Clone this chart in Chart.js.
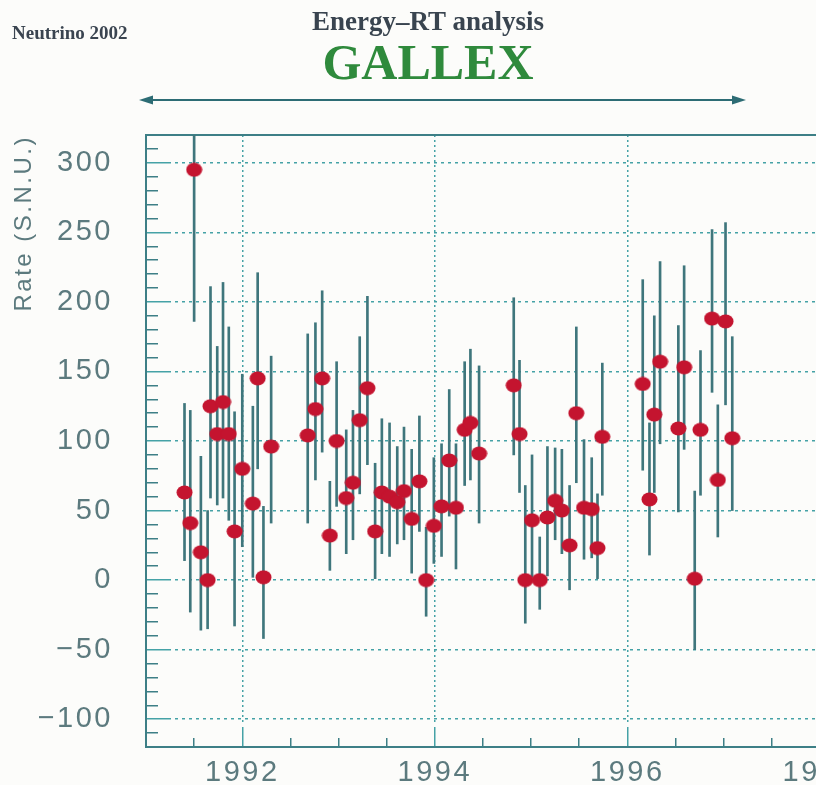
<!DOCTYPE html>
<html>
<head>
<meta charset="utf-8">
<script src="https://cdn.jsdelivr.net/npm/chart.js@4.4.1/dist/chart.umd.min.js"></script>
<style>
  html, body { margin: 0; padding: 0; background: #fcfcfa; }
  #wrap { position: relative; width: 816px; height: 785px; overflow: hidden; }
  #chart { position: absolute; left: 0; top: 0; }
  .conf { position: absolute; left: 12px; top: 23px; font: bold 19px "Liberation Serif", serif; line-height: 1; color: #3a4450; white-space: nowrap; }
  .sub { position: absolute; left: 0; width: 856px; top: 8px; text-align: center; font: bold 27px "Liberation Serif", serif; line-height: 1; color: #39444f; }
  .exp { position: absolute; left: 0; width: 856px; top: 37px; text-align: center; font: bold 50px "Liberation Serif", serif; line-height: 1; color: #2f8a3c; }
  #arrow { position: absolute; left: 0; top: 0; }
</style>
</head>
<body>
<div id="wrap">
  <canvas id="chart" width="880" height="785"></canvas>
  <div class="conf">Neutrino 2002</div>
  <div class="sub">Energy–RT analysis</div>
  <div class="exp">GALLEX</div>
  <svg id="arrow" width="816" height="120">
    <line x1="146" y1="100" x2="739" y2="100" stroke="#2d6c74" stroke-width="2.2"/>
    <polygon points="139,100 153,95.5 153,104.5" fill="#2d6c74"/>
    <polygon points="746,100 732,95.5 732,104.5" fill="#2d6c74"/>
  </svg>
</div>
<script>
// Run dates (years) and measured rates with the ends of their error bars
const years = [
  1991.40, 1991.46, 1991.50, 1991.57, 1991.64, 1991.67, 1991.74, 1991.80, 1991.86, 1991.92,
  1992.00, 1992.11, 1992.16, 1992.22, 1992.30, 1992.68, 1992.76, 1992.83, 1992.91, 1992.98,
  1993.08, 1993.15, 1993.22, 1993.30, 1993.38, 1993.45, 1993.53, 1993.61, 1993.68, 1993.76,
  1993.84, 1993.91, 1993.99, 1994.07, 1994.15, 1994.22, 1994.31, 1994.37, 1994.46, 1994.82,
  1994.88, 1994.94, 1995.01, 1995.09, 1995.17, 1995.25, 1995.32, 1995.40, 1995.47, 1995.55,
  1995.63, 1995.69, 1995.74, 1996.16, 1996.23, 1996.28, 1996.34, 1996.53, 1996.59, 1996.70,
  1996.76, 1996.88, 1996.94, 1997.02, 1997.09
];
const rates = [
  63, 41, 295, 20, 0, 125, 105, 128, 105, 35,
  80, 55, 145, 2, 96, 104, 123, 145, 32, 100,
  59, 70, 115, 138, 35, 63, 60, 56, 64, 44,
  71, 0, 39, 53, 86, 52, 108, 113, 91, 140,
  105, 0, 43, 0, 45, 57, 50, 25, 120, 52,
  51, 23, 103, 141, 58, 119, 157, 109, 153, 1,
  108, 188, 72, 186, 102
];
const rateHigh = [
  127, 122, 400, 89, 50, 211, 168, 214, 182, 121,
  148, 125, 221, 53, 161, 177, 185, 208, 71, 157,
  108, 122, 175, 204, 84, 116, 113, 96, 110, 94,
  118, 38, 88, 98, 137, 98, 157, 166, 154, 203,
  158, 68, 90, 31, 96, 95, 94, 68, 182, 101,
  88, 62, 156, 216, 113, 190, 229, 183, 226, 64,
  165, 252, 126, 257, 175
];
const rateLow = [
  14, -23, 186, -36, -35, 59, 54, 59, 43, -33,
  24, 2, 80, -42, 41, 41, 72, 92, 7, 53,
  19, 29, 62, 83, 1, 19, 17, 26, 29, 5,
  35, -26, 12, 17, 46, 8, 68, 72, 41, 90,
  63, -31, 2, -21, 3, 29, 19, -7, 70, 15,
  16, 1, 61, 79, 18, 63, 98, 49, 94, -50,
  61, 135, 31, 126, 50
];
const yearLabels = [1992, 1994, 1996, 1998];
const rateLabels = [-100, -50, 0, 50, 100, 150, 200, 250, 300];

const axisColor = '#3d7f86';
const gridColor = '#45a2a6';
const textColor = '#5c7a7e';
const plotHeight = 612;

// Oval red marker
function ovalDot(w, h, color) {
  const c = document.createElement('canvas');
  c.width = w; c.height = h;
  const g = c.getContext('2d');
  g.fillStyle = color;
  g.beginPath();
  g.ellipse(w / 2, h / 2, w / 2 - 0.5, h / 2 - 0.5, 0, 0, Math.PI * 2);
  g.fill();
  return c;
}
const dot = ovalDot(17, 15, '#c4142f');

// Dash patterns: short solid tick on the axis side, dotted line for labelled values
function yDash(v) {
  if (rateLabels.includes(v)) {
    const d = [24, 4];
    for (let t = 28; t < 900; t += 7) d.push(3, 4);
    return d;
  }
  return [11, 3000];
}
function xDash(v) {
  if (yearLabels.includes(v)) {
    const d = [];
    let t = 0;
    while (t + 5 <= plotHeight - 20) { d.push(2, 3); t += 5; }
    d.push(0, plotHeight - 20 - t, 20, 200);
    return d;
  }
  return [0, plotHeight - 9, 9, 200];
}
function fmt(v) {
  return v < 0 ? '\u2212' + Math.abs(v) : String(v);
}
function xGrid(ctx) {
  if (!ctx.tick) return axisColor;
  const v = ctx.tick.value;
  if (v === 1991) return 'transparent';
  return yearLabels.includes(v) ? gridColor : axisColor;
}
function yGrid(ctx) {
  if (!ctx.tick) return axisColor;
  const v = ctx.tick.value;
  if (rateLabels.includes(v)) return gridColor;
  return Math.abs(v % 10) < 1e-6 ? axisColor : 'transparent';
}
// fixed box sizes, no extra room for overhanging labels
function fixBox(w, h) {
  return s => {
    if (w !== null) s.width = w;
    if (h !== null) s.height = h;
    s.paddingLeft = 0; s.paddingRight = 0; s.paddingTop = 0; s.paddingBottom = 0;
  };
}

const spacing = {
  id: 'spacing',
  beforeDraw(chart) { chart.ctx.letterSpacing = '2.5px'; }
};

new Chart(document.getElementById('chart'), {
  type: 'scatter',
  data: {
    datasets: [
      {
        data: years.map((x, i) => ({ x: x, y: rates[i] })),
        pointStyle: dot,
        order: 0
      },
      {
        type: 'bar',
        data: years.map((x, i) => ({ x: x, y: [rateLow[i], rateHigh[i]] })),
        backgroundColor: '#3f767c',
        borderWidth: 0,
        barThickness: 2,
        order: 1
      }
    ]
  },
  options: {
    responsive: false,
    animation: false,
    events: [],
    layout: { padding: { top: 135, right: 12, left: 0, bottom: 0 } },
    plugins: { legend: { display: false }, tooltip: { enabled: false } },
    scales: {
      x: {
        type: 'linear',
        position: 'bottom',
        min: 1991,
        max: 1998.5,
        offset: false,
        afterFit: fixBox(null, 38),
        ticks: {
          stepSize: 0.5,
          autoSkip: false,
          maxRotation: 0,
          padding: 9,
          color: textColor,
          font: { family: 'Liberation Sans', size: 29 },
          callback: v => yearLabels.includes(v) ? String(v) : ''
        },
        grid: { offset: false, drawTicks: false, lineWidth: 1.5, color: xGrid },
        border: { color: axisColor, width: 2, dash: ctx => ctx.tick ? xDash(ctx.tick.value) : [] }
      },
      xTop: {
        type: 'linear',
        position: 'top',
        min: 1991,
        max: 1998.5,
        offset: false,
        afterFit: fixBox(null, 0),
        ticks: { display: false },
        grid: { display: false, drawTicks: false },
        border: { color: axisColor, width: 2 }
      },
      y: {
        min: -120,
        max: 320,
        afterFit: fixBox(146, null),
        ticks: {
          stepSize: 10,
          autoSkip: false,
          padding: 33,
          color: textColor,
          font: { family: 'Liberation Sans', size: 29 },
          callback: v => rateLabels.includes(v) ? fmt(v) : ''
        },
        grid: { drawTicks: false, lineWidth: 1.5, color: yGrid },
        border: { color: axisColor, width: 2, dash: ctx => ctx.tick ? yDash(ctx.tick.value) : [] },
        title: {
          display: true,
          text: 'Rate (S.N.U.)',
          align: 'end',
          color: textColor,
          font: { family: 'Liberation Sans', size: 24, weight: 'normal' },
          padding: { top: 10, bottom: 0 }
        }
      }
    }
  },
  plugins: [spacing]
});
</script>
</body>
</html>
